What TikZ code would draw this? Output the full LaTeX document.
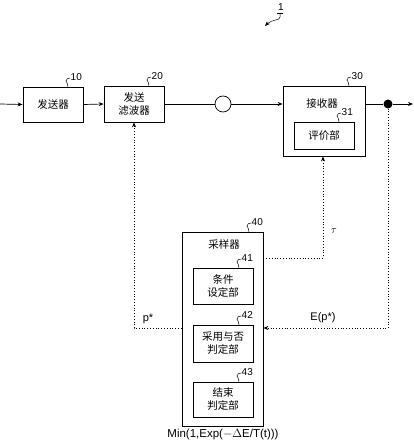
\documentclass[tikz,border=0pt]{standalone}
\usepackage{fontspec}
\setmainfont{Liberation Sans}
\newfontfamily\cjk{Noto Sans CJK SC}
\usetikzlibrary{arrows.meta}
\begin{document}
\begin{tikzpicture}[x=1pt,y=-1pt,
  blk/.style={draw,line width=0.8pt,inner sep=0pt},
  lbl/.style={font=\fontsize{10.5}{13}\selectfont\cjk,align=center},
  num/.style={font=\fontsize{10}{10}\selectfont,inner sep=0pt},
  sig/.style={line width=0.7pt,-{Stealth[length=5pt,width=4pt]}},
  fb/.style={dotted,line width=0.8pt},
  fbar/.style={fb,-{Stealth[length=5pt,width=4pt]}},
  sq/.style={line width=0.5pt}]
\useasboundingbox (0,0) rectangle (413,443);
% blocks
\node[blk,minimum width=60pt,minimum height=35pt] (b10) at (53,104.5) {};
\node[lbl] at (b10) {发送器};
\node[blk,minimum width=60pt,minimum height=36pt] (b20) at (134,104) {};
\node[lbl] at (b20) {发送\\滤波器};
\node[draw,circle,line width=0.7pt,minimum size=16pt,inner sep=0pt] (c) at (223,104) {};
\node[blk,minimum width=82pt,minimum height=70pt] (b30) at (324,121) {};
\node[lbl] at (322,104) {接收器};
\node[blk,minimum width=60pt,minimum height=27pt] (b31) at (324,135.5) {};
\node[lbl] at (b31) {评价部};
\node[blk,minimum width=81pt,minimum height=194pt] (b40) at (222.5,329) {};
\node[lbl] at (224,244) {采样器};
\node[blk,minimum width=60pt,minimum height=36pt] (b41) at (223,286) {};
\node[lbl] at (b41) {条件\\设定部};
\node[blk,minimum width=60pt,minimum height=37pt] (b42) at (223,343.5) {};
\node[lbl] at (b42) {采用与否\\判定部};
\node[blk,minimum width=60pt,minimum height=35pt] (b43) at (223,399.5) {};
\node[lbl] at (b43) {结束\\判定部};
\node[font=\fontsize{11.5}{12}\selectfont] (minx) at (223,434.5) {Min(1,Exp($-\Delta$E/T(t)))};
% coordinates
\coordinate (in) at (0,104);
\coordinate (out) at (413,104);
\node[circle,fill,inner sep=0pt,minimum size=9pt] (dot) at (388,104) {};
% signal path
\draw[sig] (in) -- (b10.west);
\draw[sig] (b10.east) -- (b20.west);
\draw[line width=0.7pt] (b20.east) -- (c.west);
\draw[sig] (c.east) -- (c.east -| b30.west);
\draw[line width=0.7pt] (b30.east |- dot) -- (dot);
\draw[sig] (dot) -- (out);
% feedback
\coordinate (tauc) at (323,258);
\draw[fbar] (b40.east |- tauc) -- (tauc) -- (b30.south -| tauc);
\node[font=\fontsize{11}{12}\selectfont] (tau) at (334,231) {$\tau$};
\coordinate (ec) at (388,328);
\draw[fbar] (dot.south) -- (ec) -- (b40.east |- ec);
\node[font=\fontsize{11}{12}\selectfont] (ep) at (323,318) {E(p*)};
\coordinate (pc) at (134,328);
\draw[fbar] (b40.west |- pc) -- (pc) -- (b20.south);
\node[font=\fontsize{11}{12}\selectfont] (ps) at (148,319) {p*};
% reference numerals
\foreach \x/\y/\n in {68/87/10, 149/86/20, 349/86/30, 339/122/31, 249/232/40, 239/268/41, 239/325/42, 239/382/43}{
  \draw[sq] (\x,\y) .. controls (\x+1,\y-3) and (\x-2,\y-4) .. (\x-2,\y-6) .. controls (\x-2,\y-8) and (\x,\y-9) .. (\x+2,\y-9);
  \node[num,anchor=west] at (\x+2.5,\y-10) {\n};
}
\node[num] (one) at (281,7) {1};
\draw[sq,-{Stealth[length=5pt,width=4pt]}] (280,13) -- (280,17) .. controls (280,21) and (272,19) .. (265,26);
\draw[sq] (277,13) -- (283,13);
\end{tikzpicture}
\end{document}
